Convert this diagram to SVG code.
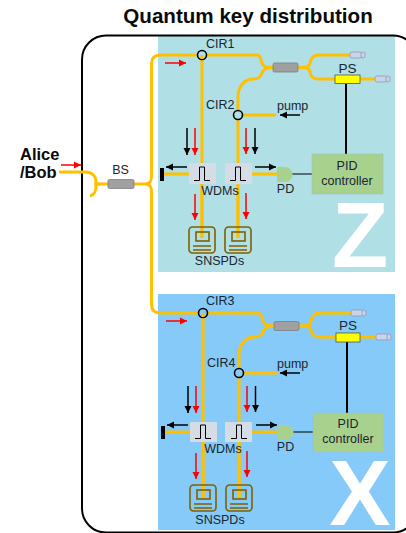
<svg xmlns="http://www.w3.org/2000/svg" width="406" height="533" viewBox="0 0 406 533">
<style>
text{font-family:"Liberation Sans",Arial,sans-serif;fill:#1a2530;font-size:12.5px}
.b{font-weight:bold;fill:#0a0a0a}
.m{text-anchor:middle}
.big{font-weight:bold;fill:#fff;font-size:92px;text-anchor:middle}
.f{fill:none;stroke:#ffc000;stroke-width:3}
.k{fill:none;stroke:#000;stroke-width:2}
.t{fill:none;stroke:#000;stroke-width:1}
.ka{stroke:#000;stroke-width:1.5;fill:none;marker-end:url(#ak)}
.ra{stroke:#f00;stroke-width:1.5;fill:none;marker-end:url(#ar)}
.cir{stroke:#000;stroke-width:1.6}
.wdm{fill:#d6dce5}
.pulse{fill:none;stroke:#000;stroke-width:1}
.bs{fill:#a0a0a0;stroke:#7f7f7f;stroke-width:.8}
.ps{fill:#ff0;stroke:#5a5a20;stroke-width:.8}
.pid{fill:#a9d18e;stroke:#9dc3c0;stroke-width:.6}
.pd{fill:#a9d18e}
.con{fill:#c9d3ea;stroke:#8f99b3;stroke-width:.8}
.det{fill:none;stroke:#7f6000;stroke-width:1.6}
</style>
<defs>
<marker id="ak" markerUnits="userSpaceOnUse" markerWidth="8" markerHeight="8" refX="7" refY="4" orient="auto"><path d="M0 .5L7 4L0 7.500z" fill="#000"/></marker>
<marker id="ar" markerUnits="userSpaceOnUse" markerWidth="8" markerHeight="8" refX="7" refY="4" orient="auto"><path d="M0 .5L7 4L0 7.500z" fill="#f00"/></marker>
<g id="det-icon"><rect x="0" y="0" width="26" height="26" rx="3.5" class="det"/><rect x="7" y="5" width="13" height="9" class="det" stroke-width="1.2"/><path d="M4 19H22M4 23H22" class="det" stroke-width="1.2"/></g>
<g id="con-icon"><rect x="0" y="-3" width="12" height="6" rx="2" class="con"/><rect x="11" y="-3" width="4" height="6" rx="2" class="con"/></g>
<path id="pulse-icon" d="M-8 7H-2.500V-6.500H2.500V7H8" class="pulse"/>
</defs>

<text x="248" y="23" class="b m" style="font-size:20.6px">Quantum key distribution</text>
<rect id="panel-z" x="158" y="36" width="237" height="236" fill="#b0dfe5"/>
<rect id="panel-x" x="158" y="294" width="237" height="236" fill="#85caf8"/>
<rect id="frame" x="82" y="35.500" width="335" height="497" rx="24" fill="none" stroke="#000" stroke-width="2"/>
<rect x="406" y="0" width="10" height="533" fill="#fff"/>
<text x="360" y="267" class="big">Z</text>
<text x="360" y="525" class="big">X</text>

<g id="connectors">
<path class="f" d="M59 172H85C93 172 96 177 96 181C96 185 92 184 108 184"/>
<path class="f" d="M90 196C94 195 96 191 96 187C96 185 94 184 100 184"/>
<path class="f" d="M134 184H146C150 184 151.500 180 151.500 176V64Q151.500 55 160 55H257C261 55 261 61 262 63C263 67 266 67.500 273 67.500"/>
<path class="f" d="M146 184C150 184 151.500 188 151.500 192V304Q151.500 313 160 313H258C262 313 262 319 263 321C264 325 267 326 274 326"/>
<path class="f" d="M273 67.500C266 67.500 263 69 262 73C261 77 258 79 253 79C244 79 238 87 238 97V238"/>
<path class="f" d="M202 55V238"/>
<path class="f" d="M238 115H276"/>
<path class="f" d="M298 67.500C305 67.500 309 68 310 63C311 58 313 55 319 55H350"/>
<path class="f" d="M298 67.500C305 67.500 309 67 310 72C311 77 313 79 319 79H375"/>
<path class="f" d="M164 174H189M252 174H278"/>

<path class="f" d="M274 326C267 326 264 328 263 332C262 335 259 337 254 337C245 337 239 345 239 355V497"/>
<path class="f" d="M203 313V497"/>
<path class="f" d="M239 373H277"/>
<path class="f" d="M299 326C306 326 310 326 311 321C312 316 314 313 320 313H351"/>
<path class="f" d="M299 326C306 326 310 325 311 330C312 335 314 337 320 337H376"/>
<path class="f" d="M165 432H190M252 432H278"/>

<path class="t" d="M292 174H312"/><path class="k" d="M346 84V154"/>
<path class="t" d="M293 432H313"/><path class="k" d="M347 342V413"/>

<path class="ra" d="M61 165H81" stroke-width="2"/><path class="ra" d="M165 63H186"/>
<path class="ka" d="M187 128V155"/><path class="ra" d="M195 128V155"/>
<path class="ra" d="M246 128V154"/><path class="ka" d="M255 128V154"/>
<path class="ka" d="M187 167H166"/><path class="ka" d="M255 167H276"/>
<path class="ra" d="M195 194V220"/><path class="ra" d="M246 193V219"/>
<path class="ka" d="M300 115H280"/>

<path class="ra" d="M166 321H187"/>
<path class="ka" d="M188 386V413"/><path class="ra" d="M196 386V413"/>
<path class="ra" d="M247 386V412"/><path class="ka" d="M255.500 386V412"/>
<path class="ka" d="M188 425H167"/><path class="ka" d="M256 425H277"/>
<path class="ra" d="M196 453V479"/><path class="ra" d="M247 451V477"/>
<path class="ka" d="M300 373H280"/>
</g>

<g id="alice"><text x="20" y="160" class="b" style="font-size:16.5px">Alice</text><text x="20" y="178" class="b" style="font-size:16.5px">/Bob</text></g>
<g id="bs0"><rect x="108" y="179.500" width="26" height="9" rx="1.500" class="bs"/><text x="120.500" y="174" class="m">BS</text></g>

<g id="z-section">
<g id="cir1"><circle cx="202" cy="55" r="4.500" class="cir" fill="#b0dfe5"/><path class="f" d="M202 55V59"/><text x="206" y="48">CIR1</text></g>
<g id="cir2"><circle cx="238" cy="115" r="4.500" class="cir" fill="#b0dfe5"/><text x="206" y="109">CIR2</text></g>
<g id="bs1"><rect x="273" y="63" width="25" height="9" rx="1.500" class="bs"/></g>
<g id="ps1"><rect x="335" y="75" width="25" height="8.500" class="ps"/><text x="347.500" y="73" class="m" style="font-size:13.5px">PS</text></g>
<use href="#con-icon" x="350" y="55"/><use href="#con-icon" x="375" y="79"/>
<text x="277" y="110">pump</text>
<g id="wdm1"><rect x="189" y="163" width="27" height="21" class="wdm"/><use href="#pulse-icon" x="202" y="173.500"/></g>
<g id="wdm2"><rect x="225" y="163" width="27" height="21" class="wdm"/><use href="#pulse-icon" x="238" y="173.500"/></g>
<path class="f" d="M202 184V238M238 184V238"/>
<text x="220" y="195" class="m">WDMs</text>
<rect id="bar1" x="160" y="168" width="4" height="13" fill="#000"/>
<path id="pd1" class="pd" d="M277 167H285A7.500 7.500 0 0 1 285 182H277z"/>
<text x="285.500" y="193" class="m">PD</text>
<g id="pid1"><rect x="312" y="154" width="71" height="40" class="pid"/><text x="347" y="170" class="m">PID</text><text x="347" y="185" class="m">controller</text></g>
<g id="snspd1"><use href="#det-icon" x="189" y="227"/></g><g id="snspd2"><use href="#det-icon" x="225" y="227"/></g>
<text x="219.500" y="265" class="m">SNSPDs</text>
</g>

<g id="x-section">
<g id="cir3"><circle cx="203" cy="313" r="4.500" class="cir" fill="#85caf8"/><path class="f" d="M203 313V317"/><text x="206" y="305">CIR3</text></g>
<g id="cir4"><circle cx="239" cy="373" r="4.500" class="cir" fill="#85caf8"/><text x="207" y="367">CIR4</text></g>
<g id="bs2"><rect x="274" y="321.500" width="25" height="9" rx="1.500" class="bs"/></g>
<g id="ps2"><rect x="336" y="333" width="24" height="9" class="ps"/><text x="348" y="330" class="m" style="font-size:13.5px">PS</text></g>
<use href="#con-icon" x="351" y="313"/><use href="#con-icon" x="376" y="337"/>
<text x="277" y="368">pump</text>
<g id="wdm3"><rect x="190" y="422" width="27" height="20" class="wdm"/><use href="#pulse-icon" x="203" y="431.500"/></g>
<g id="wdm4"><rect x="225" y="422" width="27" height="20" class="wdm"/><use href="#pulse-icon" x="239" y="431.500"/></g>
<path class="f" d="M203 442V497M239 442V497"/>
<text x="223" y="453" class="m">WDMs</text>
<rect id="bar2" x="161" y="426" width="4" height="13" fill="#000"/>
<path id="pd2" class="pd" d="M278 425H286A7.500 7.500 0 0 1 286 440H278z"/>
<text x="285.500" y="451" class="m">PD</text>
<g id="pid2"><rect x="313" y="413" width="71" height="39" class="pid"/><text x="348" y="428" class="m">PID</text><text x="348" y="443" class="m">controller</text></g>
<g id="snspd3"><use href="#det-icon" x="190" y="485"/></g><g id="snspd4"><use href="#det-icon" x="226" y="485"/></g>
<text x="220" y="524" class="m">SNSPDs</text>
</g>
</svg>
